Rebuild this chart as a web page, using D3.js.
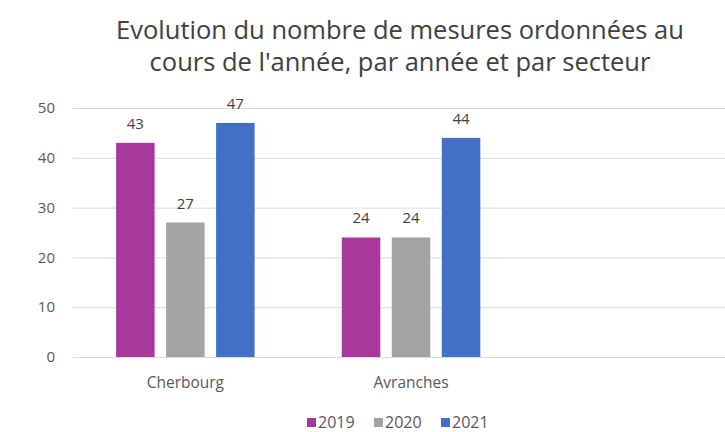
<!DOCTYPE html>
<html>
<head>
<meta charset="utf-8">
<script src="https://cdn.jsdelivr.net/npm/d3@7"></script>
<style>
  body { margin: 0; background: #fff; }
  svg { display: block; font-family: "Open Sans", sans-serif; }
</style>
</head>
<body>
<svg width="725" height="432"></svg>
<script>
const categories = ["Cherbourg", "Avranches"];
const years = ["2019", "2020", "2021"];
const values2019 = [43, 24];
const values2020 = [27, 24];
const values2021 = [47, 44];
const yTicks = [0, 10, 20, 30, 40, 50];
const titleLines = ["Evolution du nombre de mesures ordonnées au", "cours de l'année, par année et par secteur"];

const colors = {"2019": "#a8399c", "2020": "#a3a3a3", "2021": "#4170c4"};
const seriesByYear = {"2019": values2019, "2020": values2020, "2021": values2021};

const svg = d3.select("svg");
const plotLeft = 72.5, plotTop = 108, plotBottom = 357;

// plot is wider than the picture: the step is 225.7px, gridlines run off the right edge
const x = d3.scaleBand()
    .domain(categories)
    .range([plotLeft, plotLeft + 225.7 * categories.length])
    .padding(0);

const x1 = d3.scaleBand()
    .domain(years)
    .range([0, x.bandwidth()])
    .paddingInner(0.23)
    .paddingOuter(0.872);

const y = d3.scaleLinear()
    .domain([0, 50])
    .range([plotBottom, plotTop]);

// gridlines
svg.append("g")
    .selectAll("line")
    .data(yTicks)
    .join("line")
    .attr("x1", plotLeft)
    .attr("x2", 725)
    .attr("y1", d => y(d) + 0.5)
    .attr("y2", d => y(d) + 0.5)
    .attr("stroke", "#dadada")
    .attr("stroke-width", 1);

// y axis labels
svg.append("g")
    .selectAll("text")
    .data(yTicks)
    .join("text")
    .attr("x", 55)
    .attr("y", d => y(d))
    .attr("dy", "0.35em")
    .attr("text-anchor", "end")
    .attr("fill", "#595959")
    .style("font-size", "15px")
    .text(d => d);

// bars
const rows = [];
categories.forEach((c, i) => {
    years.forEach(yr => rows.push({cat: c, year: yr, value: seriesByYear[yr][i]}));
});

svg.append("g")
    .selectAll("rect")
    .data(rows)
    .join("rect")
    .attr("x", d => x(d.cat) + x1(d.year))
    .attr("y", d => y(d.value))
    .attr("width", x1.bandwidth())
    .attr("height", d => y(0) - y(d.value))
    .attr("fill", d => colors[d.year]);

// value labels
svg.append("g")
    .selectAll("text")
    .data(rows)
    .join("text")
    .attr("x", d => x(d.cat) + x1(d.year) + x1.bandwidth() / 2)
    .attr("y", d => y(d.value) - 14)
    .attr("text-anchor", "middle")
    .attr("fill", "#404040")
    .style("font-size", "15px")
    .text(d => d.value);

// category labels
svg.append("g")
    .selectAll("text")
    .data(categories)
    .join("text")
    .attr("x", d => x(d) + x.bandwidth() / 2)
    .attr("y", 388)
    .attr("text-anchor", "middle")
    .attr("fill", "#595959")
    .style("font-size", "15.5px")
    .text(d => d);

// title
svg.append("g")
    .selectAll("text")
    .data(titleLines)
    .join("text")
    .attr("x", 400)
    .attr("y", (d, i) => 39 + i * 32)
    .attr("text-anchor", "middle")
    .attr("fill", "#404040")
    .style("font-size", "25.5px")
    .text(d => d);

// legend
const legendX = [307, 374, 441];
const legend = svg.append("g")
    .selectAll("g")
    .data(years)
    .join("g")
    .attr("transform", (d, i) => `translate(${legendX[i]},418)`);

legend.append("rect")
    .attr("width", 9)
    .attr("height", 9)
    .attr("fill", d => colors[d]);

legend.append("text")
    .attr("x", 11)
    .attr("y", 4.5)
    .attr("dy", "0.35em")
    .attr("fill", "#595959")
    .style("font-size", "16px")
    .text(d => d);
</script>
</body>
</html>
